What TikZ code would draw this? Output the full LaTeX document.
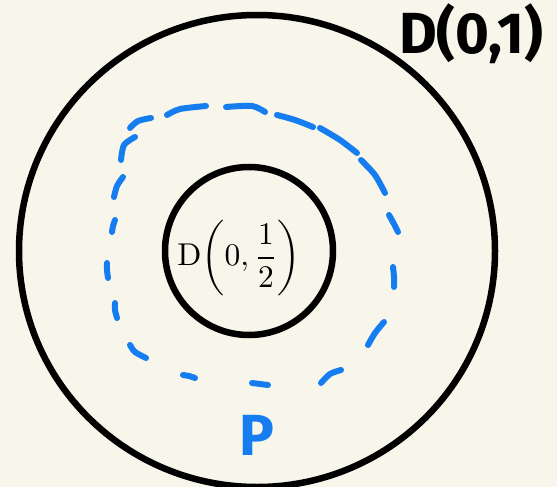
\documentclass[tikz,border=0pt]{standalone}
\usepackage{fontspec}
\setmainfont{Fira Sans}
\newfontfamily\lmrfam{Latin Modern Roman}
\definecolor{bgcream}{RGB}{248,246,234}
\definecolor{penblue}{RGB}{22,125,240}
\tikzset{
  ring/.style={draw=black, line width=6.5pt},
  bluedash/.style={draw=penblue, line width=6pt, line cap=round},
}
\begin{document}
\begin{tikzpicture}[x=1pt, y=-1pt]
\fill[bgcream] (0,0) rectangle (557,487);
\useasboundingbox (0,0) rectangle (557,487);
\draw[ring] (257,251) ellipse [x radius=238, y radius=236];
\draw[ring] (249,251) circle [radius=84];
\foreach \pts in {
  {(130,128) (138,121) (151,118)},
  {(167,115) (180,109) (206,106)},
  {(226,107) (252,106) (265,112)},
  {(277,115) (295,120) (313,127)},
  {(320,128) (340,140) (357,153)},
  {(361,160) (375,175) (385,193)},
  {(389,215) (394,224) (398,232)},
  {(393,267) (394,277) (394,287)},
  {(384,322) (375,333) (368,345)},
  {(341,370) (330,374) (321,383)},
  {(268,385) (260,384) (252,383)},
  {(195,378) (189,376) (183,375)},
  {(146,358) (135,352) (130,345)},
  {(117,318) (115,310) (115,303)},
  {(108,278) (107,270) (107,263)},
  {(112,232) (113,226) (115,220)},
  {(114,197) (117,186) (123,177)},
  {(121,160) (124,145) (135,137)}}
  \draw[bluedash] plot[smooth] coordinates {\pts};
\node (outerlabel) at (471,34) {\fontsize{58}{58}\selectfont\bfseries D(0,1)};
\node[scale=3.15, inner sep=0pt] (innerlabel) at (239,258) {$\displaystyle\mbox{\lmrfam D}\!\left(0,\frac{1}{2}\right)$};
\node[text=penblue] (plabel) at (257,435) {\fontsize{58}{58}\selectfont\bfseries P};
\end{tikzpicture}
\end{document}
